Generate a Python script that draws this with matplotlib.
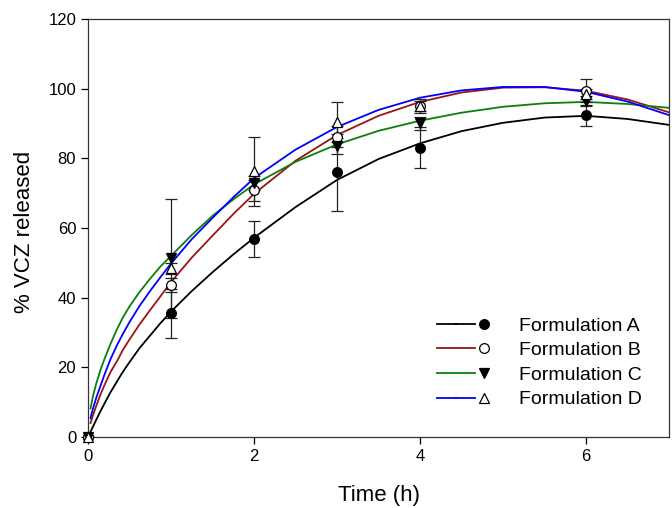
import numpy as np
import matplotlib
matplotlib.use("Agg")
import matplotlib.pyplot as plt
from matplotlib.lines import Line2D
from matplotlib.legend_handler import HandlerTuple

plt.rcParams['font.family'] = ['Liberation Sans', 'DejaVu Sans']

time_h = [0, 1, 2, 3, 4, 6]
rel_a = [0, 35.5, 56.8, 76.0, 83.1, 92.3]
err_a = [0, 7.0, 5.1, 11.0, 5.9, 3.0]
rel_b = [0, 43.6, 70.8, 86.2, 95.0, 99.4]
err_b = [0, 2.0, 3.0, 3.0, 2.0, 3.3]
rel_c = [0, 51.3, 72.8, 83.5, 90.0, 96.5]
err_c = [0, 17.0, 2.0, 2.3, 2.0, 1.5]
rel_d = [0, 48.4, 76.3, 90.5, 95.0, 98.5]
err_d = [0, 1.5, 9.9, 5.7, 1.5, 1.5]

# fitted curves, values
fit_time = [0, 0.03, 0.06, 0.1, 0.15, 0.2, 0.27, 0.35, 0.42, 0.5, 0.62, 0.75,
            0.87, 1, 1.25, 1.5, 1.75, 2, 2.5, 3, 3.5, 4, 4.5, 5, 5.5, 6, 6.5, 7]
fit_a = [0, 1.5, 3.0, 5.0, 7.4, 9.7, 12.8, 16.0, 18.7, 21.5, 25.5, 29.2,
         32.6, 36.0, 41.9, 47.3, 52.4, 57.2, 66.0, 73.8, 79.8, 84.3, 87.8,
         90.2, 91.7, 92.2, 91.3, 89.6]
fit_b = [np.nan, 4.0, 6.3, 9.0, 12.2, 15.0, 18.6, 21.8, 25.0, 28.0, 32.3, 36.5,
         40.3, 44.5, 51.5, 57.8, 64.0, 69.8, 79.3, 86.7, 92.2, 96.2, 98.9,
         100.3, 100.4, 99.4, 96.9, 93.2]
fit_c = [np.nan, 8.2, 11.8, 15.4, 19.3, 22.5, 26.7, 31.0, 34.3, 37.5, 41.6, 45.5,
         48.9, 52.0, 58.0, 63.5, 68.2, 72.5, 79.0, 84.0, 87.9, 90.8, 93.1,
         94.8, 95.8, 96.2, 95.6, 94.5]
fit_d = [np.nan, 5.4, 8.2, 11.3, 14.7, 18.0, 22.3, 26.4, 29.6, 33.0, 37.6, 42.0,
         45.8, 49.8, 56.8, 62.9, 68.8, 74.3, 82.5, 89.0, 93.9, 97.4, 99.5,
         100.5, 100.5, 99.1, 96.3, 92.4]

labels = ["Formulation A", "Formulation B", "Formulation C", "Formulation D"]


def main():
    fig = plt.figure(figsize=(6.72, 5.08), dpi=100)
    ax = fig.add_axes([0.131, 0.1398, 0.8646, 0.8228])

    series = [
        (rel_a, err_a, fit_a, 'black', 'o', 'black'),
        (rel_b, err_b, fit_b, '#9a1414', 'o', 'white'),
        (rel_c, err_c, fit_c, '#0a800a', 'v', 'black'),
        (rel_d, err_d, fit_d, '#0000ff', '^', 'white'),
    ]

    handles = []
    for rel, err, fit, color, marker, face in series:
        # fitted curve first, then bars and symbols on top
        ax.plot(fit_time, fit, color=color, lw=1.3, zorder=2)
        ax.errorbar(time_h, rel, yerr=err, fmt='none', ecolor='#222222',
                    elinewidth=0.9, capsize=4, capthick=0.9, zorder=3)
        ax.plot(time_h, rel, ls='none', marker=marker, ms=7,
                mfc=face, mec='black', mew=0.9, zorder=4, clip_on=False)

        line = Line2D([], [], color=color, lw=1.3)
        mk = Line2D([], [], ls='none', marker=marker, ms=7,
                    mfc=face, mec='black', mew=0.9)
        handles.append((line, line, mk))

    ax.set_xlim(0, 7)
    ax.set_ylim(0, 120)
    ax.set_xticks([0, 2, 4, 6])
    ax.set_yticks(range(0, 121, 20))
    ax.tick_params(direction='out', length=5, width=0.9, labelsize=12,
                   top=False, right=False)
    for sp in ax.spines.values():
        sp.set_linewidth(0.9)
        sp.set_color('#333333')

    ax.set_xlabel("Time (h)", fontsize=16, labelpad=15)
    ax.set_ylabel("% VCZ released", fontsize=16)
    ax.yaxis.set_label_coords(-0.091, 0.49)

    ax.legend(handles, labels,
              handler_map={tuple: HandlerTuple(ndivide=None, pad=0)},
              loc='upper left', bbox_to_anchor=(0.6007, 0.2871),
              frameon=False, fontsize=14, handlelength=2.9,
              handletextpad=1.3, labelspacing=0.36,
              borderpad=0, borderaxespad=0)

    fig.savefig("out.png", dpi=100)
    plt.close(fig)


if __name__ == "__main__":
    main()
